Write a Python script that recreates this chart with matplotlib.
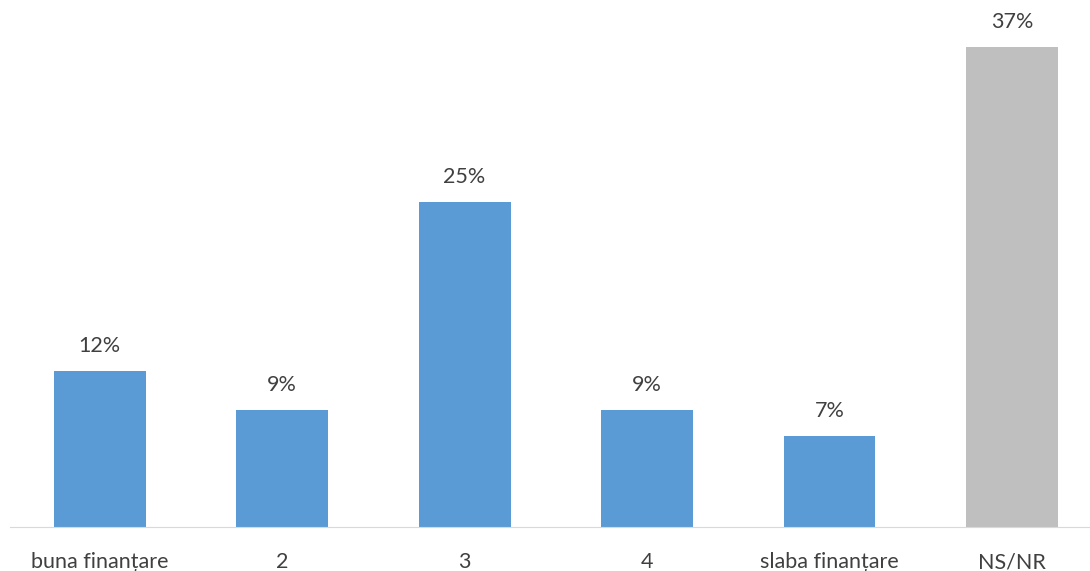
import matplotlib.pyplot as plt

categories = ['buna finanțare', '2', '3', '4', 'slaba finanțare', 'NS/NR']
values = [12, 9, 25, 9, 7, 37]
colors = ['#5b9bd5'] * 5 + ['#bfbfbf']

plt.rcParams['font.family'] = ['Lato', 'DejaVu Sans']

fig = plt.figure(figsize=(10.9, 5.71), dpi=100)
ax = fig.add_axes([0.009, 0.077, 0.991, 0.914])

x = range(len(categories))
bars = ax.bar(x, values, width=0.504, color=colors)

for b, v in zip(bars, values):
    ax.text(b.get_x() + b.get_width() / 2, v + 1.93, f'{v}%',
            ha='center', va='center', fontsize=15.5, color='#404040')

ax.set_xlim(-0.493, 5.428)
ax.set_ylim(0, 40.2)
ax.set_xticks(list(x))
ax.set_xticklabels(categories, fontsize=15.5, color='#404040')
ax.tick_params(axis='x', length=0, pad=18)
ax.set_yticks([])
for s in ['top', 'right', 'left']:
    ax.spines[s].set_visible(False)
ax.spines['bottom'].set_color('#d9d9d9')

fig.savefig('out.png', dpi=100)
